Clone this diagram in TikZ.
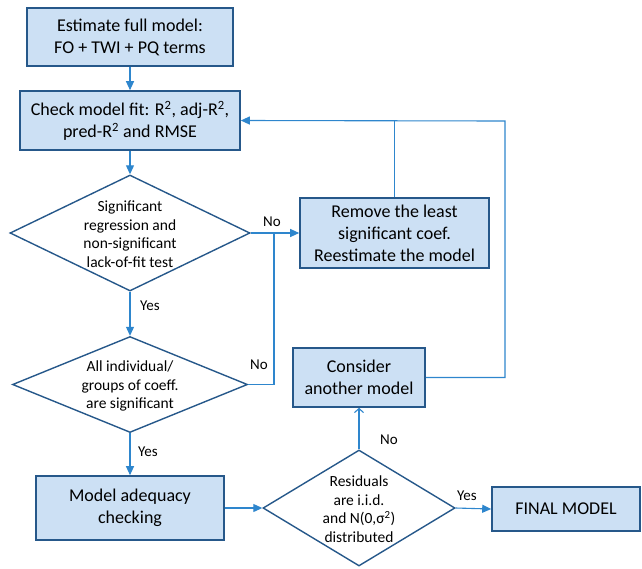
\documentclass[tikz,border=0pt]{standalone}
\usepackage{fontspec}
\setmainfont{Carlito}
\usetikzlibrary{shapes.geometric,arrows.meta}
\definecolor{boxfill}{RGB}{204,224,244}
\definecolor{boxline}{RGB}{38,88,138}
\definecolor{conn}{RGB}{46,134,205}
\tikzset{
  box/.style={draw=boxline,fill=boxfill,line width=1.6pt,rectangle,inner sep=0pt,align=center,
    font=\fontsize{18}{22}\selectfont},
  dia/.style={draw=boxline,line width=1.4pt,shape=diamond,inner sep=0pt},
  dtext/.style={align=center,inner sep=0pt,font=\fontsize{15.5}{18.5}\selectfont},
  lbl/.style={inner sep=0pt,font=\fontsize{15}{17}\selectfont},
  conline/.style={draw=conn,line width=1.1pt},
  arr/.style={conline,-{Triangle[length=9pt,width=8pt]}},
  oarr/.style={conline,-{Straight Barb[length=4pt,width=9pt]}}
}
\begin{document}
\begin{tikzpicture}[x=1pt,y=-1pt]
\useasboundingbox (0,0) rectangle (642,568);
% boxes
\node[box,minimum width=206pt,minimum height=58pt] (b1) at (130,37) {Estimate full model:\\FO + TWI + PQ terms};
\node[box,minimum width=220pt,minimum height=59pt] (b2) at (130,120.5) {Check model fit: R\textsuperscript{2}, adj-R\textsuperscript{2},\\pred-R\textsuperscript{2} and RMSE};
\node[dia,minimum width=240pt,minimum height=116pt] (d1) at (130,233) {};
\node[dtext] (t1) at (130,234) {Significant\\regression and\\non-significant\\lack-of-fit test};
\node[box,minimum width=189pt,minimum height=70pt] (rem) at (394.5,233) {Remove the least\\significant coef.\\Reestimate the model};
\node[dia,minimum width=235pt,minimum height=96pt] (d2) at (130,384.5) {};
\node[dtext] (t2) at (130,386) {All individual/\\groups of coeff.\\are significant};
\node[box,minimum width=132pt,minimum height=59pt] (cons) at (359,377.5) {Consider\\another model};
\node[box,minimum width=188pt,minimum height=64pt] (model) at (130,508) {Model adequacy\\checking};
\node[dia,minimum width=192pt,minimum height=116pt] (d3) at (359,508) {};
\node[dtext] (t3) at (359,509) {Residuals\\are i.i.d.\\and N(0,σ\textsuperscript{2})\\distributed};
\node[box,minimum width=148pt,minimum height=44pt] (final) at (566,509) {FINAL MODEL};
% junctions
\coordinate (j1) at (274,233);
\coordinate (j2) at (394.5,121);
\coordinate (j3) at (505,121);
% connectors
\draw[arr] (b1) -- (b2);
\draw[arr] (b2) -- (d1.north);
\draw[arr] (d1.east) -- (rem.west);
\draw[arr] (d1.south) -- (d2.north);
\draw[conline] (d2.east) -| (j1);
\draw[conline] (rem.north) -- (j2);
\draw[arr] (cons.east) -| (j3) -- (b2.east);
\draw[arr] (d2.south) -- (model.north);
\draw[arr] (model.east) -- (d3.west);
\draw[oarr] (d3.north) -- (cons.south);
\draw[arr] (d3.east) -- (final.west);
% labels
\node[lbl] (l1) at (272,222) {No};
\node[lbl] (l2) at (259,365) {No};
\node[lbl] (l3) at (150,306) {Yes};
\node[lbl] (l4) at (148,452) {Yes};
\node[lbl] (l5) at (389,440) {No};
\node[lbl] (l6) at (467,496) {Yes};
\end{tikzpicture}
\end{document}
